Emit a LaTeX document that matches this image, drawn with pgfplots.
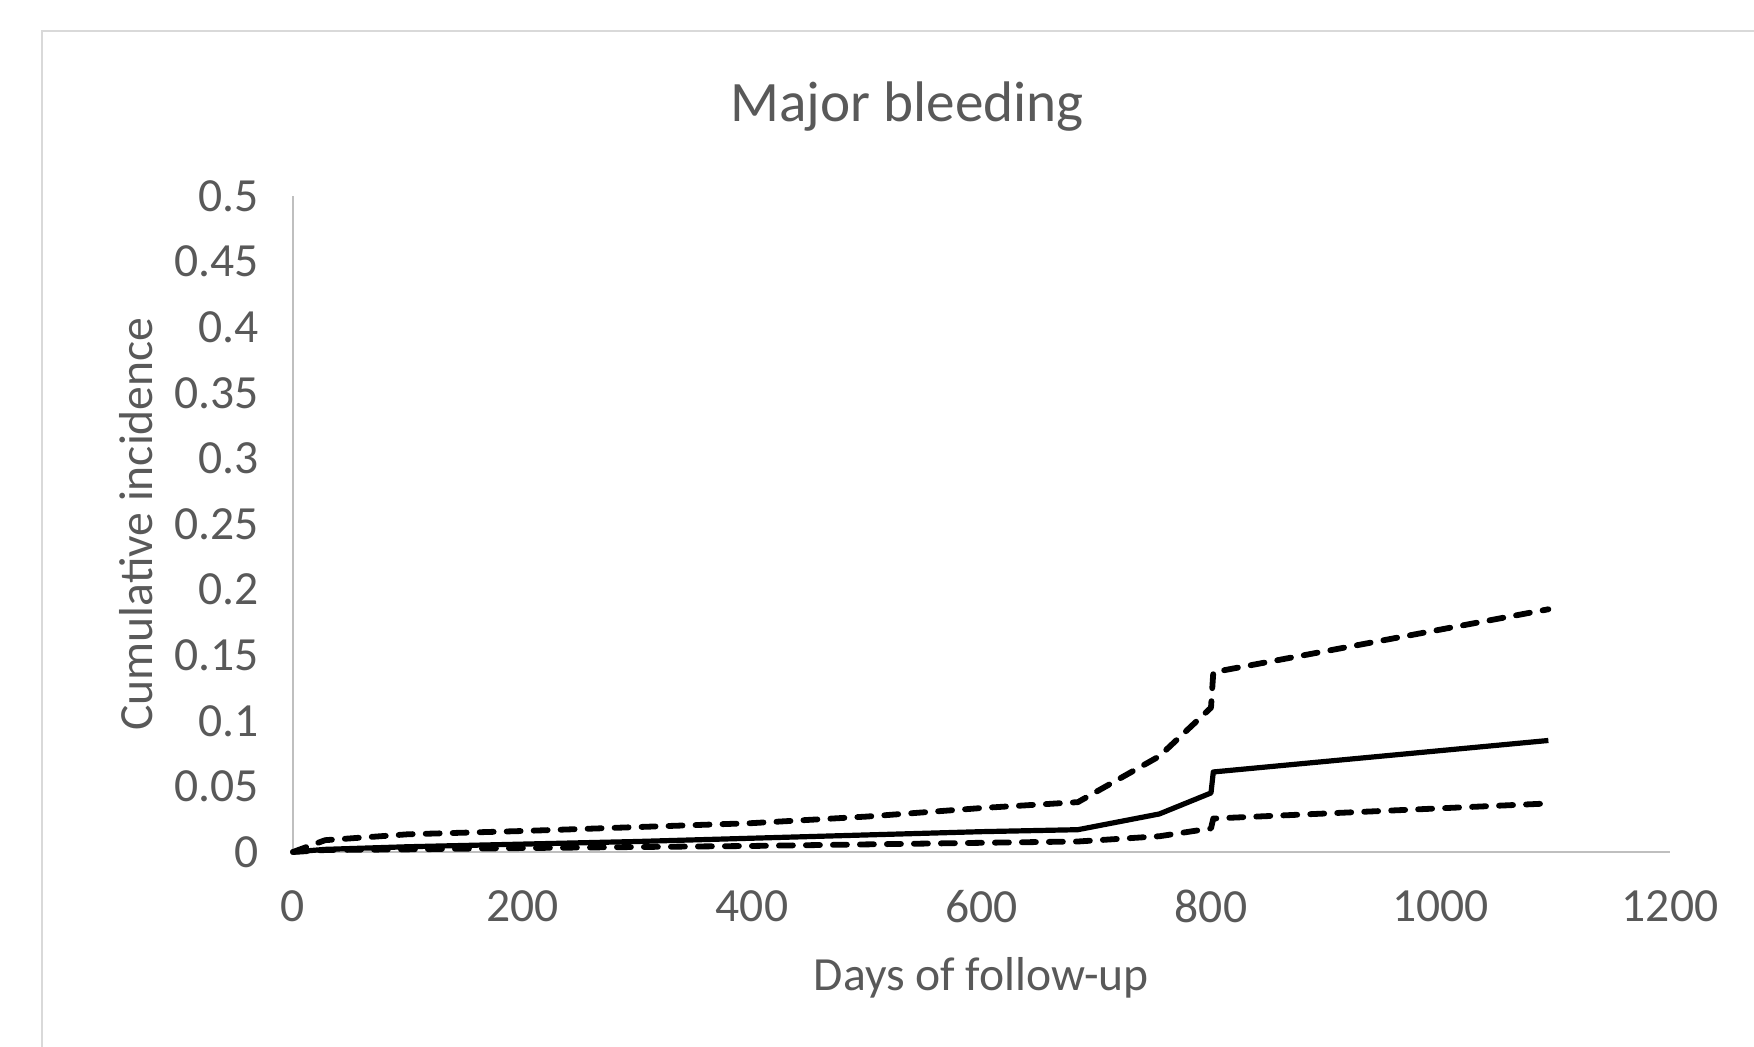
\documentclass[border=0pt]{standalone}
\usepackage{fontspec}
\setmainfont{Carlito}
\usepackage{pgfplots}
\pgfplotsset{compat=1.18}
\definecolor{txt}{HTML}{595959}
\definecolor{axgray}{HTML}{BFBFBF}
\definecolor{framegray}{HTML}{D9D9D9}

\pgfplotstableread{
day   est    lo     hi
0     0      0      0
28    0.002  0.0015 0.009
100   0.004  0.002  0.0135
200   0.006  0.003  0.016
300   0.008  0.0038 0.019
400   0.0105 0.0046 0.022
500   0.013  0.0058 0.027
600   0.0155 0.007  0.0335
684   0.017  0.008  0.038
755   0.029  0.012  0.073
800   0.045  0.018  0.110
802   0.061  0.0255 0.137
1094  0.085  0.037  0.185
}\bleed

\begin{document}
\begin{tikzpicture}
% page = 1754 x 1047 px, 1 px = 0.25pt, axis origin at px (293,852)
\useasboundingbox (-73.25pt,-48.75pt) rectangle (365.25pt,213pt);
\draw[framegray, line width=0.6pt] (-62.75pt,-80pt) rectangle (400pt,205.25pt);
\begin{axis}[
    at={(0pt,0pt)}, anchor=south west,
    scale only axis,
    width=344.25pt, height=164pt,
    xmin=0, xmax=1200, ymin=0, ymax=0.5,
    axis x line=bottom, axis y line=left,
    axis line style={axgray, line width=0.5pt, -},
    major tick length=0pt,
    xtick={0,200,...,1200},
    ytick={0,0.05,...,0.5},
    /pgf/number format/assume math mode=true,
    /pgf/number format/1000 sep={},
    y tick label style={/pgf/number format/fixed, /pgf/number format/precision=2},
    tick label style={font=\fontsize{11.9}{14}\selectfont, text=txt},
    xticklabel style={yshift=-6pt},
    yticklabel style={xshift=-5pt},
    title={Major bleeding},
    title style={at={(axis description cs:0.446,1.142)}, anchor=center, yshift=-7pt,
        font=\fontsize{14.3}{17}\selectfont, text=txt},
    xlabel={Days of follow-up},
    xlabel style={at={(axis description cs:0.5,-0.192)}, anchor=center,
        font=\fontsize{11.9}{14}\selectfont, text=txt},
    ylabel={Cumulative incidence},
    ylabel style={at={(axis description cs:-0.114,0.5)}, anchor=center,
        font=\fontsize{11.9}{14}\selectfont, text=txt},
    clip=false,
]
\addplot[black, line width=1.3pt, line join=round] table[x=day, y=est] {\bleed};
\addplot[black, line width=1.45pt, line cap=round, line join=round,
    dash pattern=on 3.5pt off 3.25pt] table[x=day, y=hi] {\bleed};
\addplot[black, line width=1.45pt, line cap=round, line join=round,
    dash pattern=on 3.5pt off 3.25pt] table[x=day, y=lo] {\bleed};
\end{axis}
\end{tikzpicture}
\end{document}
